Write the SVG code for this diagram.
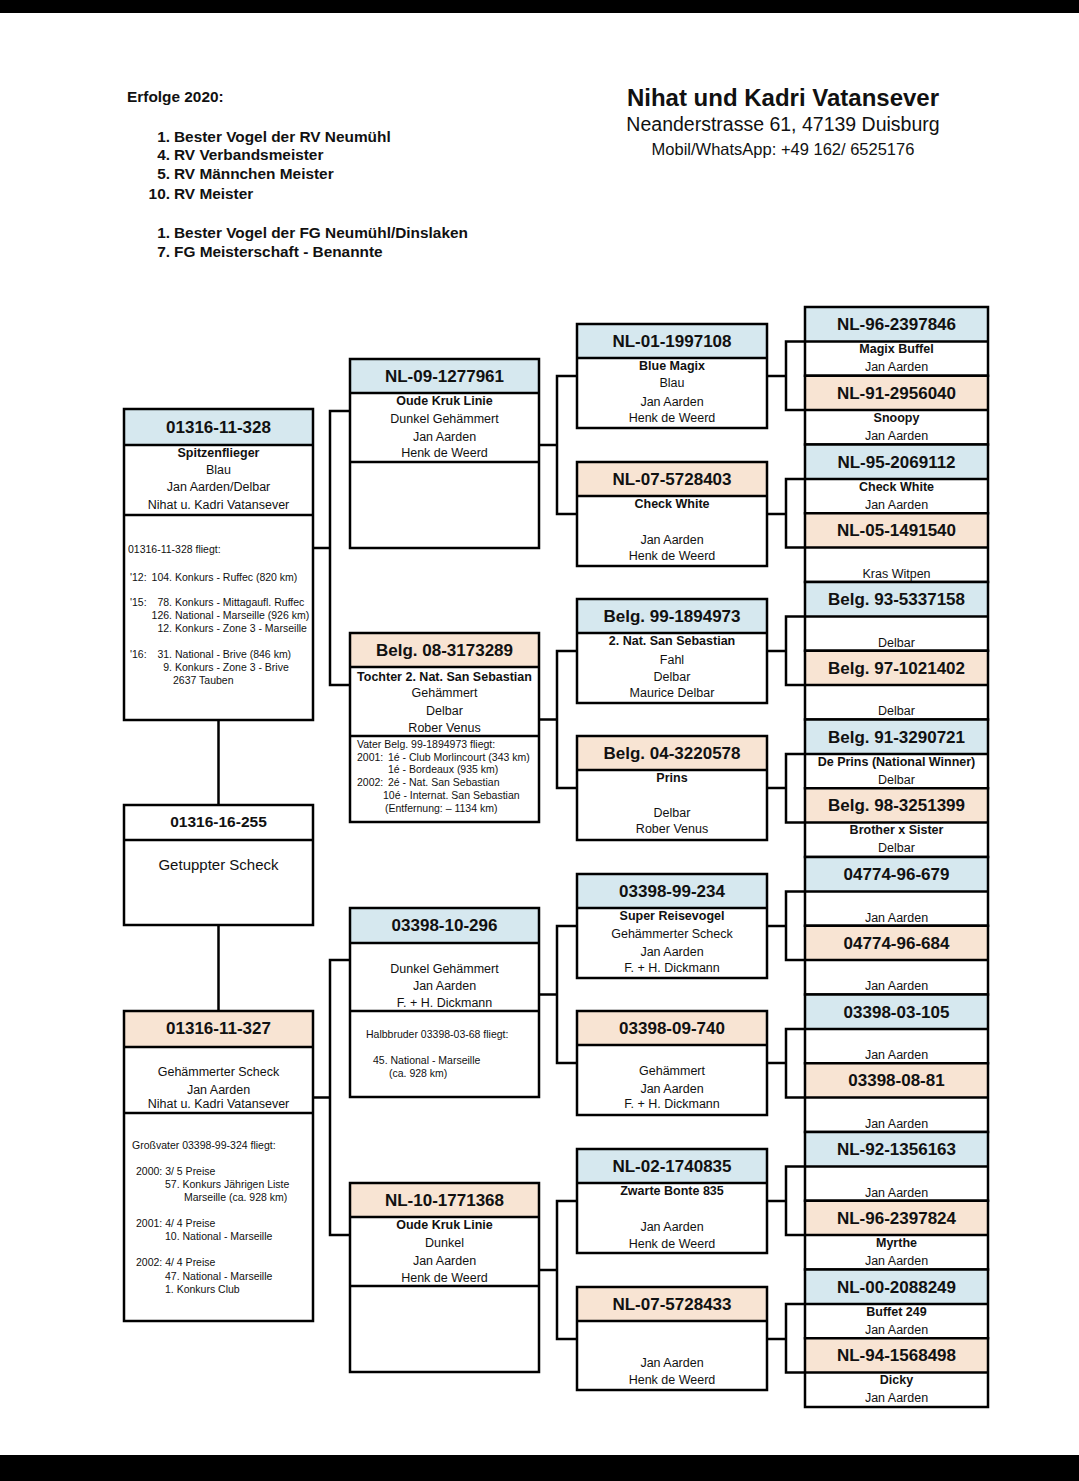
<svg xmlns="http://www.w3.org/2000/svg" width="1079" height="1481" viewBox="0 0 1079 1481">
<style>
text{font-family:"Liberation Sans",Arial,sans-serif;fill:#111}
.box{fill:none;stroke:#000;stroke-width:2.5}
.sep{stroke:#000;stroke-width:2.5}
.hb{fill:#d6e8ef}
.hp{fill:#f8e4d3}
.id{font-weight:bold;font-size:17px;text-anchor:middle}
.ids{font-weight:bold;font-size:15.5px;text-anchor:middle}
.t{font-size:12.5px;text-anchor:middle}
.b{font-weight:bold;font-size:12.5px;text-anchor:middle}
.n{font-size:10.5px}
.ne{font-size:10.5px;text-anchor:end}
.hl{font-weight:bold;font-size:15.4px}
.hle{font-weight:bold;font-size:15.4px;text-anchor:end}
.con{fill:none;stroke:#000;stroke-width:2.5}
</style>
<rect x="0" y="0" width="1079" height="1481" fill="#fff"/>
<rect x="0" y="0" width="1079" height="13" fill="#000"/>
<rect x="0" y="1455" width="1079" height="26" fill="#000"/>

<g id="header-left">
<text x="127" y="102" class="hl">Erfolge 2020:</text>
<text x="170" y="142" class="hle">1.</text><text x="174" y="142" class="hl">Bester Vogel der RV Neumühl</text>
<text x="170" y="160" class="hle">4.</text><text x="174" y="160" class="hl">RV Verbandsmeister</text>
<text x="170" y="179" class="hle">5.</text><text x="174" y="179" class="hl">RV Männchen Meister</text>
<text x="170" y="199" class="hle">10.</text><text x="174" y="199" class="hl">RV Meister</text>
<text x="170" y="238" class="hle">1.</text><text x="174" y="238" class="hl">Bester Vogel der FG Neumühl/Dinslaken</text>
<text x="170" y="257" class="hle">7.</text><text x="174" y="257" class="hl">FG Meisterschaft - Benannte</text>
</g>
<g id="header-right">
<text x="783" y="106" style="font-weight:bold;font-size:24px;text-anchor:middle">Nihat und Kadri Vatansever</text>
<text x="783" y="131" style="font-size:19.5px;text-anchor:middle">Neanderstrasse 61, 47139 Duisburg</text>
<text x="783" y="155" style="font-size:16.5px;text-anchor:middle">Mobil/WhatsApp: +49 162/ 6525176</text>
</g>

<g id="connectors">
<path class="con" d="M218.5 720V805M218.5 925V1011"/>
<path class="con" d="M313 548H330M350 411H330V685H350"/>
<path class="con" d="M313 1097.5H330M350 960H330V1235H350"/>
<path class="con" d="M539 445H557M577 376H557V514H577"/>
<path class="con" d="M539 719.5H557M577 651H557V788H577"/>
<path class="con" d="M539 994.5H557M577 926H557V1063H577"/>
<path class="con" d="M539 1270H557M577 1201H557V1339H577"/>
<path class="con" d="M767 376H786M805 341.4H786V410.1H805"/>
<path class="con" d="M767 514H786M805 478.9H786V547.6H805"/>
<path class="con" d="M767 651H786M805 616.4H786V685.1H805"/>
<path class="con" d="M767 788H786M805 753.9H786V822.6H805"/>
<path class="con" d="M767 926H786M805 891.4H786V960.1H805"/>
<path class="con" d="M767 1063H786M805 1028.9H786V1097.6H805"/>
<path class="con" d="M767 1201H786M805 1166.4H786V1235.1H805"/>
<path class="con" d="M767 1339H786M805 1303.9H786V1372.6H805"/>
</g>

<g id="n-01316-11-328">
<rect x="124" y="409" width="189" height="36" class="hb"/>
<rect x="124" y="409" width="189" height="311" class="box"/>
<line x1="124" y1="445" x2="313" y2="445" class="sep"/>
<line x1="124" y1="515" x2="313" y2="515" class="sep"/>
<text x="218.5" y="433" class="id">01316-11-328</text>
<text x="218.5" y="457" class="b">Spitzenflieger</text>
<text x="218.5" y="474" class="t">Blau</text>
<text x="218.5" y="491" class="t">Jan Aarden/Delbar</text>
<text x="218.5" y="509" class="t">Nihat u. Kadri Vatansever</text>
<text x="128" y="553" class="n">01316-11-328 fliegt:</text>
<text x="130" y="581" class="n">'12:</text><text x="172" y="581" class="ne">104.</text><text x="175" y="581" class="n">Konkurs - Ruffec (820 km)</text>
<text x="130" y="606" class="n">'15:</text><text x="172" y="606" class="ne">78.</text><text x="175" y="606" class="n">Konkurs - Mittagaufl. Ruffec</text>
<text x="172" y="619" class="ne">126.</text><text x="175" y="619" class="n">National - Marseille (926 km)</text>
<text x="172" y="632" class="ne">12.</text><text x="175" y="632" class="n">Konkurs - Zone 3 - Marseille</text>
<text x="130" y="658" class="n">'16:</text><text x="172" y="658" class="ne">31.</text><text x="175" y="658" class="n">National - Brive (846 km)</text>
<text x="172" y="671" class="ne">9.</text><text x="175" y="671" class="n">Konkurs - Zone 3 - Brive</text>
<text x="173" y="684" class="n">2637 Tauben</text>
</g>

<g id="n-01316-16-255">
<rect x="124" y="805" width="189" height="120" class="box"/>
<line x1="124" y1="840" x2="313" y2="840" class="sep"/>
<text x="218.5" y="827" class="ids">01316-16-255</text>
<text x="218.5" y="870" style="font-size:15px;text-anchor:middle">Getuppter Scheck</text>
</g>

<g id="n-01316-11-327">
<rect x="124" y="1011" width="189" height="36" class="hp"/>
<rect x="124" y="1011" width="189" height="310" class="box"/>
<line x1="124" y1="1047" x2="313" y2="1047" class="sep"/>
<line x1="124" y1="1113" x2="313" y2="1113" class="sep"/>
<text x="218.5" y="1034" class="id">01316-11-327</text>
<text x="218.5" y="1076" class="t">Gehämmerter Scheck</text>
<text x="218.5" y="1094" class="t">Jan Aarden</text>
<text x="218.5" y="1108" class="t">Nihat u. Kadri Vatansever</text>
<text x="132" y="1149" class="n">Großvater 03398-99-324 fliegt:</text>
<text x="136" y="1175" class="n">2000: 3/ 5 Preise</text>
<text x="165" y="1188" class="n">57. Konkurs Jährigen Liste</text>
<text x="184" y="1201" class="n">Marseille (ca. 928 km)</text>
<text x="136" y="1227" class="n">2001: 4/ 4 Preise</text>
<text x="165" y="1240" class="n">10. National - Marseille</text>
<text x="136" y="1266" class="n">2002: 4/ 4 Preise</text>
<text x="165" y="1280" class="n">47. National - Marseille</text>
<text x="165" y="1293" class="n">1. Konkurs Club</text>
</g>

<g id="n-NL-09-1277961">
<rect x="350" y="359" width="189" height="34" class="hb"/>
<rect x="350" y="359" width="189" height="189" class="box"/>
<line x1="350" y1="393" x2="539" y2="393" class="sep"/>
<line x1="350" y1="462" x2="539" y2="462" class="sep"/>
<text x="444.5" y="382" class="id">NL-09-1277961</text>
<text x="444.5" y="405" class="b">Oude Kruk Linie</text>
<text x="444.5" y="423" class="t">Dunkel Gehämmert</text>
<text x="444.5" y="441" class="t">Jan Aarden</text>
<text x="444.5" y="457" class="t">Henk de Weerd</text>
</g>

<g id="n-Belg-08-3173289">
<rect x="350" y="633" width="189" height="34" class="hp"/>
<rect x="350" y="633" width="189" height="189" class="box"/>
<line x1="350" y1="667" x2="539" y2="667" class="sep"/>
<line x1="350" y1="736" x2="539" y2="736" class="sep"/>
<text x="444.5" y="656" class="id">Belg. 08-3173289</text>
<text x="444.5" y="681" class="b">Tochter 2. Nat. San Sebastian</text>
<text x="444.5" y="697" class="t">Gehämmert</text>
<text x="444.5" y="715" class="t">Delbar</text>
<text x="444.5" y="732" class="t">Rober Venus</text>
<text x="357" y="748" class="n">Vater Belg. 99-1894973 fliegt:</text>
<text x="357" y="761" class="n">2001:</text><text x="388" y="761" class="n">1é - Club Morlincourt (343 km)</text>
<text x="388" y="773" class="n">1é - Bordeaux (935 km)</text>
<text x="357" y="786" class="n">2002:</text><text x="388" y="786" class="n">2é - Nat. San Sebastian</text>
<text x="383" y="799" class="n">10é - Internat. San Sebastian</text>
<text x="385" y="812" class="n">(Entfernung: – 1134 km)</text>
</g>

<g id="n-03398-10-296">
<rect x="350" y="908" width="189" height="35" class="hb"/>
<rect x="350" y="908" width="189" height="189" class="box"/>
<line x1="350" y1="943" x2="539" y2="943" class="sep"/>
<line x1="350" y1="1011" x2="539" y2="1011" class="sep"/>
<text x="444.5" y="931" class="id">03398-10-296</text>
<text x="444.5" y="973" class="t">Dunkel Gehämmert</text>
<text x="444.5" y="990" class="t">Jan Aarden</text>
<text x="444.5" y="1007" class="t">F. + H. Dickmann</text>
<text x="366" y="1038" class="n">Halbbruder 03398-03-68 fliegt:</text>
<text x="373" y="1064" class="n">45. National - Marseille</text>
<text x="389" y="1077" class="n">(ca. 928 km)</text>
</g>

<g id="n-NL-10-1771368">
<rect x="350" y="1183" width="189" height="34" class="hp"/>
<rect x="350" y="1183" width="189" height="189" class="box"/>
<line x1="350" y1="1217" x2="539" y2="1217" class="sep"/>
<line x1="350" y1="1286" x2="539" y2="1286" class="sep"/>
<text x="444.5" y="1206" class="id">NL-10-1771368</text>
<text x="444.5" y="1229" class="b">Oude Kruk Linie</text>
<text x="444.5" y="1247" class="t">Dunkel</text>
<text x="444.5" y="1265" class="t">Jan Aarden</text>
<text x="444.5" y="1282" class="t">Henk de Weerd</text>
</g>

<g id="n-NL-01-1997108">
<rect x="577" y="324" width="190" height="34" class="hb"/>
<rect x="577" y="324" width="190" height="104" class="box"/>
<line x1="577" y1="358" x2="767" y2="358" class="sep"/>
<text x="672" y="347" class="id">NL-01-1997108</text>
<text x="672" y="370" class="b">Blue Magix</text>
<text x="672" y="387" class="t">Blau</text>
<text x="672" y="406" class="t">Jan Aarden</text>
<text x="672" y="422" class="t">Henk de Weerd</text>
</g>
<g id="n-NL-07-5728403">
<rect x="577" y="462" width="190" height="34" class="hp"/>
<rect x="577" y="462" width="190" height="104" class="box"/>
<line x1="577" y1="496" x2="767" y2="496" class="sep"/>
<text x="672" y="485" class="id">NL-07-5728403</text>
<text x="672" y="508" class="b">Check White</text>
<text x="672" y="544" class="t">Jan Aarden</text>
<text x="672" y="560" class="t">Henk de Weerd</text>
</g>
<g id="n-Belg-99-1894973">
<rect x="577" y="599" width="190" height="34" class="hb"/>
<rect x="577" y="599" width="190" height="104" class="box"/>
<line x1="577" y1="633" x2="767" y2="633" class="sep"/>
<text x="672" y="622" class="id">Belg. 99-1894973</text>
<text x="672" y="645" class="b">2. Nat. San Sebastian</text>
<text x="672" y="664" class="t">Fahl</text>
<text x="672" y="681" class="t">Delbar</text>
<text x="672" y="697" class="t">Maurice Delbar</text>
</g>
<g id="n-Belg-04-3220578">
<rect x="577" y="736" width="190" height="34" class="hp"/>
<rect x="577" y="736" width="190" height="104" class="box"/>
<line x1="577" y1="770" x2="767" y2="770" class="sep"/>
<text x="672" y="759" class="id">Belg. 04-3220578</text>
<text x="672" y="782" class="b">Prins</text>
<text x="672" y="817" class="t">Delbar</text>
<text x="672" y="833" class="t">Rober Venus</text>
</g>
<g id="n-03398-99-234">
<rect x="577" y="874" width="190" height="34" class="hb"/>
<rect x="577" y="874" width="190" height="104" class="box"/>
<line x1="577" y1="908" x2="767" y2="908" class="sep"/>
<text x="672" y="897" class="id">03398-99-234</text>
<text x="672" y="920" class="b">Super Reisevogel</text>
<text x="672" y="938" class="t">Gehämmerter Scheck</text>
<text x="672" y="956" class="t">Jan Aarden</text>
<text x="672" y="972" class="t">F. + H. Dickmann</text>
</g>
<g id="n-03398-09-740">
<rect x="577" y="1011" width="190" height="34" class="hp"/>
<rect x="577" y="1011" width="190" height="104" class="box"/>
<line x1="577" y1="1045" x2="767" y2="1045" class="sep"/>
<text x="672" y="1034" class="id">03398-09-740</text>
<text x="672" y="1075" class="t">Gehämmert</text>
<text x="672" y="1093" class="t">Jan Aarden</text>
<text x="672" y="1108" class="t">F. + H. Dickmann</text>
</g>
<g id="n-NL-02-1740835">
<rect x="577" y="1149" width="190" height="34" class="hb"/>
<rect x="577" y="1149" width="190" height="104" class="box"/>
<line x1="577" y1="1183" x2="767" y2="1183" class="sep"/>
<text x="672" y="1172" class="id">NL-02-1740835</text>
<text x="672" y="1195" class="b">Zwarte Bonte 835</text>
<text x="672" y="1231" class="t">Jan Aarden</text>
<text x="672" y="1248" class="t">Henk de Weerd</text>
</g>
<g id="n-NL-07-5728433">
<rect x="577" y="1287" width="190" height="34" class="hp"/>
<rect x="577" y="1287" width="190" height="103" class="box"/>
<line x1="577" y1="1321" x2="767" y2="1321" class="sep"/>
<text x="672" y="1310" class="id">NL-07-5728433</text>
<text x="672" y="1367" class="t">Jan Aarden</text>
<text x="672" y="1384" class="t">Henk de Weerd</text>
</g>

<g id="n-NL-96-2397846">
<rect x="805" y="307" width="183" height="34.4" class="hb"/>
<rect x="805" y="307" width="183" height="68.75" class="box"/>
<line x1="805" y1="341.4" x2="988" y2="341.4" class="sep"/>
<text x="896.5" y="330" class="id">NL-96-2397846</text>
<text x="896.5" y="353" class="b">Magix Buffel</text>
<text x="896.5" y="371" class="t">Jan Aarden</text>
</g>
<g id="n-NL-91-2956040">
<rect x="805" y="375.75" width="183" height="34.4" class="hp"/>
<rect x="805" y="375.75" width="183" height="68.75" class="box"/>
<line x1="805" y1="410.1" x2="988" y2="410.1" class="sep"/>
<text x="896.5" y="398.8" class="id">NL-91-2956040</text>
<text x="896.5" y="421.8" class="b">Snoopy</text>
<text x="896.5" y="439.8" class="t">Jan Aarden</text>
</g>
<g id="n-NL-95-2069112">
<rect x="805" y="444.5" width="183" height="34.4" class="hb"/>
<rect x="805" y="444.5" width="183" height="68.75" class="box"/>
<line x1="805" y1="478.9" x2="988" y2="478.9" class="sep"/>
<text x="896.5" y="467.5" class="id">NL-95-2069112</text>
<text x="896.5" y="490.5" class="b">Check White</text>
<text x="896.5" y="508.5" class="t">Jan Aarden</text>
</g>
<g id="n-NL-05-1491540">
<rect x="805" y="513.25" width="183" height="34.4" class="hp"/>
<rect x="805" y="513.25" width="183" height="68.75" class="box"/>
<line x1="805" y1="547.6" x2="988" y2="547.6" class="sep"/>
<text x="896.5" y="536.3" class="id">NL-05-1491540</text>
<text x="896.5" y="578" class="t">Kras Witpen</text>
</g>
<g id="n-Belg-93-5337158">
<rect x="805" y="582" width="183" height="34.4" class="hb"/>
<rect x="805" y="582" width="183" height="68.75" class="box"/>
<line x1="805" y1="616.4" x2="988" y2="616.4" class="sep"/>
<text x="896.5" y="605" class="id">Belg. 93-5337158</text>
<text x="896.5" y="646.5" class="t">Delbar</text>
</g>
<g id="n-Belg-97-1021402">
<rect x="805" y="650.75" width="183" height="34.4" class="hp"/>
<rect x="805" y="650.75" width="183" height="68.75" class="box"/>
<line x1="805" y1="685.1" x2="988" y2="685.1" class="sep"/>
<text x="896.5" y="673.8" class="id">Belg. 97-1021402</text>
<text x="896.5" y="715.3" class="t">Delbar</text>
</g>
<g id="n-Belg-91-3290721">
<rect x="805" y="719.5" width="183" height="34.4" class="hb"/>
<rect x="805" y="719.5" width="183" height="68.75" class="box"/>
<line x1="805" y1="753.9" x2="988" y2="753.9" class="sep"/>
<text x="896.5" y="742.5" class="id">Belg. 91-3290721</text>
<text x="896.5" y="765.5" class="b">De Prins (National Winner)</text>
<text x="896.5" y="783.5" class="t">Delbar</text>
</g>
<g id="n-Belg-98-3251399">
<rect x="805" y="788.25" width="183" height="34.4" class="hp"/>
<rect x="805" y="788.25" width="183" height="68.75" class="box"/>
<line x1="805" y1="822.6" x2="988" y2="822.6" class="sep"/>
<text x="896.5" y="811.3" class="id">Belg. 98-3251399</text>
<text x="896.5" y="834.3" class="b">Brother x Sister</text>
<text x="896.5" y="852.3" class="t">Delbar</text>
</g>
<g id="n-04774-96-679">
<rect x="805" y="857" width="183" height="34.4" class="hb"/>
<rect x="805" y="857" width="183" height="68.75" class="box"/>
<line x1="805" y1="891.4" x2="988" y2="891.4" class="sep"/>
<text x="896.5" y="880" class="id">04774-96-679</text>
<text x="896.5" y="921.5" class="t">Jan Aarden</text>
</g>
<g id="n-04774-96-684">
<rect x="805" y="925.75" width="183" height="34.4" class="hp"/>
<rect x="805" y="925.75" width="183" height="68.75" class="box"/>
<line x1="805" y1="960.1" x2="988" y2="960.1" class="sep"/>
<text x="896.5" y="948.8" class="id">04774-96-684</text>
<text x="896.5" y="990.3" class="t">Jan Aarden</text>
</g>
<g id="n-03398-03-105">
<rect x="805" y="994.5" width="183" height="34.4" class="hb"/>
<rect x="805" y="994.5" width="183" height="68.75" class="box"/>
<line x1="805" y1="1028.9" x2="988" y2="1028.9" class="sep"/>
<text x="896.5" y="1017.5" class="id">03398-03-105</text>
<text x="896.5" y="1059" class="t">Jan Aarden</text>
</g>
<g id="n-03398-08-81">
<rect x="805" y="1063.25" width="183" height="34.4" class="hp"/>
<rect x="805" y="1063.25" width="183" height="68.75" class="box"/>
<line x1="805" y1="1097.6" x2="988" y2="1097.6" class="sep"/>
<text x="896.5" y="1086.3" class="id">03398-08-81</text>
<text x="896.5" y="1127.8" class="t">Jan Aarden</text>
</g>
<g id="n-NL-92-1356163">
<rect x="805" y="1132" width="183" height="34.4" class="hb"/>
<rect x="805" y="1132" width="183" height="68.75" class="box"/>
<line x1="805" y1="1166.4" x2="988" y2="1166.4" class="sep"/>
<text x="896.5" y="1155" class="id">NL-92-1356163</text>
<text x="896.5" y="1196.5" class="t">Jan Aarden</text>
</g>
<g id="n-NL-96-2397824">
<rect x="805" y="1200.75" width="183" height="34.4" class="hp"/>
<rect x="805" y="1200.75" width="183" height="68.75" class="box"/>
<line x1="805" y1="1235.1" x2="988" y2="1235.1" class="sep"/>
<text x="896.5" y="1223.8" class="id">NL-96-2397824</text>
<text x="896.5" y="1246.8" class="b">Myrthe</text>
<text x="896.5" y="1264.8" class="t">Jan Aarden</text>
</g>
<g id="n-NL-00-2088249">
<rect x="805" y="1269.5" width="183" height="34.4" class="hb"/>
<rect x="805" y="1269.5" width="183" height="68.75" class="box"/>
<line x1="805" y1="1303.9" x2="988" y2="1303.9" class="sep"/>
<text x="896.5" y="1292.5" class="id">NL-00-2088249</text>
<text x="896.5" y="1315.5" class="b">Buffet 249</text>
<text x="896.5" y="1333.5" class="t">Jan Aarden</text>
</g>
<g id="n-NL-94-1568498">
<rect x="805" y="1338.25" width="183" height="34.4" class="hp"/>
<rect x="805" y="1338.25" width="183" height="68.75" class="box"/>
<line x1="805" y1="1372.6" x2="988" y2="1372.6" class="sep"/>
<text x="896.5" y="1361.3" class="id">NL-94-1568498</text>
<text x="896.5" y="1384.3" class="b">Dicky</text>
<text x="896.5" y="1402.3" class="t">Jan Aarden</text>
</g>
</svg>
